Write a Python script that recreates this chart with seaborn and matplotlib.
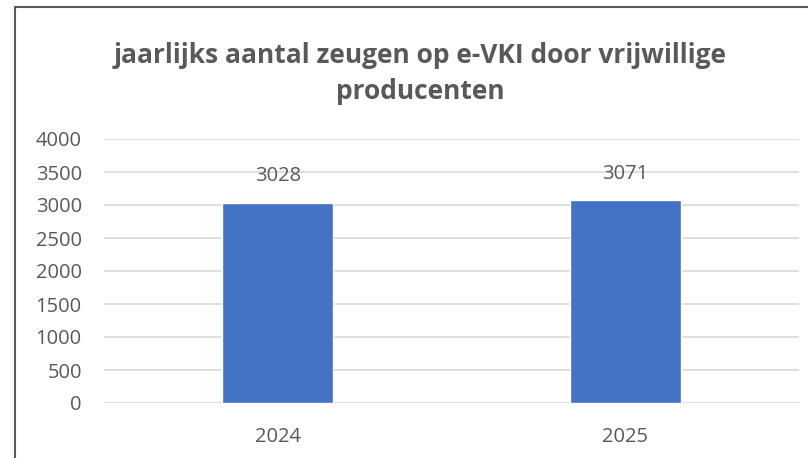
import matplotlib
matplotlib.use("Agg")
import matplotlib.pyplot as plt
import seaborn as sns
import pandas as pd
from matplotlib.lines import Line2D

years = ["2024", "2025"]
zeugen = [3028, 3071]
y_ticks = [0, 500, 1000, 1500, 2000, 2500, 3000, 3500, 4000]
title = "jaarlijks aantal zeugen op e-VKI door vrijwillige\nproducenten"

TEXT = "#595959"
BAR = "#4472C4"
GRID = "#D9D9D9"

sns.set_theme(style="white")
plt.rcParams["font.family"] = ["Open Sans", "DejaVu Sans"]

df = pd.DataFrame({"jaar": years, "zeugen": zeugen})

fig = plt.figure(figsize=(8.08, 4.58), dpi=100)
ax = fig.add_axes([104 / 808, 1 - 403 / 458, 695 / 808, 264 / 458])

sns.barplot(data=df, x="jaar", y="zeugen", color=BAR, saturation=1,
            width=0.32, ax=ax, zorder=3)

ax.set_ylim(0, 4000)
ax.set_yticks(y_ticks)
ax.set_xlim(-0.5, 1.5)
ax.grid(axis="y", color=GRID, linewidth=1.2, zorder=0)
ax.set_axisbelow(True)
for s in ax.spines.values():
    s.set_visible(False)
ax.set_xlabel("")
ax.set_ylabel("")
ax.tick_params(axis="both", length=0, labelsize=14.5, colors=TEXT)
ax.tick_params(axis="y", pad=16)
ax.tick_params(axis="x", pad=17)

for bars in ax.containers:
    ax.bar_label(bars, labels=[str(v) for v in zeugen], padding=12,
                 fontsize=14.5, color=TEXT)

fig.text(0.52, 0.84, title, ha="center", va="center", fontsize=19,
         fontweight="bold", color=TEXT, linespacing=1.45)

# chart frame (only left and top edges are visible in the crop)
fig.add_artist(Line2D([15 / 808, 15 / 808], [0, 1 - 7 / 458],
                      transform=fig.transFigure, color="#595959", linewidth=1.5))
fig.add_artist(Line2D([15 / 808, 1], [1 - 7 / 458, 1 - 7 / 458],
                      transform=fig.transFigure, color="#595959", linewidth=1.5))

fig.savefig("out.png", dpi=100, facecolor="white")
